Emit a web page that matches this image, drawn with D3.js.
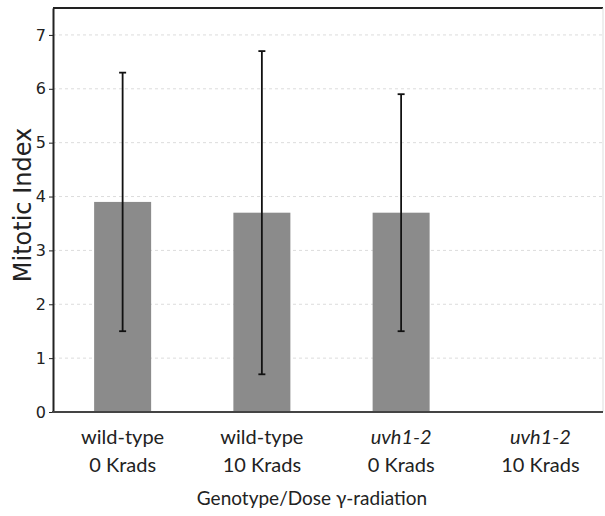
<!DOCTYPE html>
<html>
<head>
<meta charset="utf-8">
<script src="https://cdn.jsdelivr.net/npm/d3@7"></script>
<style>
  body { margin: 0; background: #fff; }
  .tick text { font-family: "DejaVu Sans", Verdana, sans-serif; }
</style>
</head>
<body>
<svg id="chart" width="605" height="516"></svg>
<script>
// chart data
var genotypes = ["wild-type", "wild-type", "uvh1-2", "uvh1-2"];
var doses = ["0 Krads", "10 Krads", "0 Krads", "10 Krads"];
var italicGenotype = [false, false, true, true];
var mitoticIndex = [3.9, 3.7, 3.7, 0];
var errLow = [1.5, 0.7, 1.5, null];
var errHigh = [6.3, 6.7, 5.9, null];
var yTicks = [0, 1, 2, 3, 4, 5, 6, 7];

// plot box
var margin = {top: 8, right: 2, bottom: 104, left: 53},
    width = 605,
    height = 516,
    plotRight = width - margin.right,
    plotBottom = height - margin.bottom;

var svg = d3.select("svg#chart");

var idx = d3.range(mitoticIndex.length);

var x = d3.scalePoint().domain(idx).range([margin.left, 610]).padding(0.5),
    y = d3.scaleLinear().domain([0, 7.5]).range([plotBottom, margin.top]);

var barWidth = 57;

// gridlines, faint and dashed
svg.append("g")
  .selectAll("line")
  .data(yTicks.filter(function(d) { return d > 0; }))
  .join("line")
    .attr("x1", margin.left)
    .attr("x2", plotRight)
    .attr("y1", function(d) { return y(d); })
    .attr("y2", function(d) { return y(d); })
    .attr("stroke", "#dcdcdc")
    .attr("stroke-width", 1)
    .attr("stroke-dasharray", "3,3");

// bars
svg.append("g")
  .selectAll("rect")
  .data(idx.filter(function(i) { return mitoticIndex[i] > 0; }))
  .join("rect")
    .attr("x", function(i) { return x(i) - barWidth / 2; })
    .attr("y", function(i) { return y(mitoticIndex[i]); })
    .attr("width", barWidth)
    .attr("height", function(i) { return y(0) - y(mitoticIndex[i]); })
    .attr("fill", "#8b8b8b");

// error bars
var errs = svg.append("g")
  .selectAll("g")
  .data(idx.filter(function(i) { return errLow[i] != null; }))
  .join("g")
    .attr("stroke", "#111")
    .attr("stroke-width", 1.8);

errs.append("line")
  .attr("x1", function(i) { return x(i); })
  .attr("x2", function(i) { return x(i); })
  .attr("y1", function(i) { return y(errLow[i]); })
  .attr("y2", function(i) { return y(errHigh[i]); });

errs.selectAll("line.cap")
  .data(function(i) { return [[i, errLow[i]], [i, errHigh[i]]]; })
  .join("line")
    .attr("class", "cap")
    .attr("x1", function(d) { return x(d[0]) - 3.5; })
    .attr("x2", function(d) { return x(d[0]) + 3.5; })
    .attr("y1", function(d) { return y(d[1]); })
    .attr("y2", function(d) { return y(d[1]); });

// frame: dark top and left, light right
svg.append("line")
  .attr("x1", margin.left).attr("x2", plotRight)
  .attr("y1", margin.top).attr("y2", margin.top)
  .attr("stroke", "#222").attr("stroke-width", 2);
svg.append("line")
  .attr("x1", plotRight).attr("x2", plotRight)
  .attr("y1", margin.top).attr("y2", plotBottom)
  .attr("stroke", "#ddd").attr("stroke-width", 1);

// y axis
var yAxis = svg.append("g")
  .attr("transform", "translate(" + margin.left + ",0)")
  .call(d3.axisLeft(y).tickValues(yTicks).tickSize(4).tickSizeOuter(0).tickPadding(3));
yAxis.select(".domain").attr("stroke", "#222").attr("stroke-width", 2);
yAxis.selectAll(".tick line").attr("stroke", "#222");
yAxis.selectAll(".tick text").attr("font-size", 16).attr("fill", "#222");

// bottom axis line
svg.append("line")
  .attr("x1", margin.left - 1).attr("x2", plotRight)
  .attr("y1", plotBottom).attr("y2", plotBottom)
  .attr("stroke", "#444").attr("stroke-width", 2);

// category labels, two lines each
var catFont = "Lato, sans-serif";
var cats = svg.append("g")
  .selectAll("g")
  .data(idx)
  .join("g")
    .attr("font-family", catFont)
    .attr("font-size", 20)
    .attr("fill", "#222")
    .attr("text-anchor", "middle");

cats.append("text")
  .attr("x", function(i) { return x(i); })
  .attr("y", 444)
  .attr("font-style", function(i) { return italicGenotype[i] ? "italic" : "normal"; })
  .text(function(i) { return genotypes[i]; });

cats.append("text")
  .attr("x", function(i) { return x(i); })
  .attr("y", 472)
  .text(function(i) { return doses[i]; });

// axis titles
svg.append("text")
  .attr("x", 312)
  .attr("y", 505)
  .attr("text-anchor", "middle")
  .attr("font-family", catFont)
  .attr("font-size", 19)
  .attr("fill", "#222")
  .text("Genotype/Dose \u03b3-radiation");

svg.append("text")
  .attr("transform", "translate(31," + 205 + ") rotate(-90)")
  .attr("text-anchor", "middle")
  .attr("font-family", "'DejaVu Sans', Verdana, sans-serif")
  .attr("font-size", 24)
  .attr("fill", "#222")
  .text("Mitotic Index");
</script>
</body>
</html>
